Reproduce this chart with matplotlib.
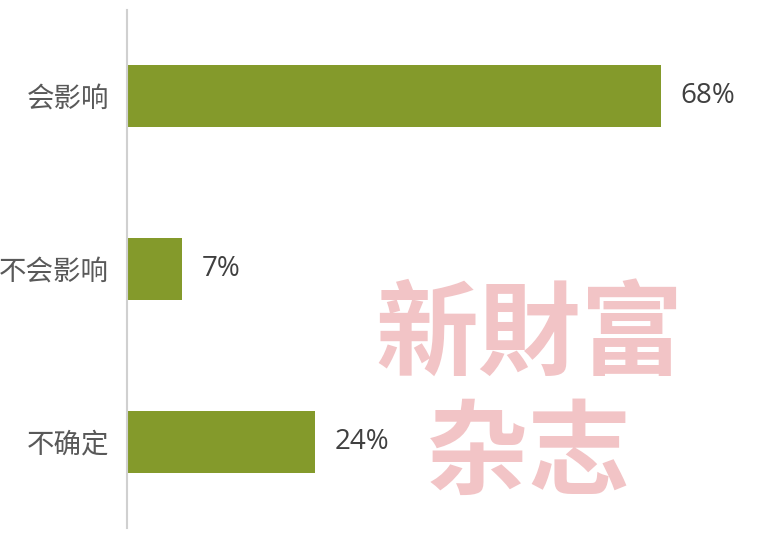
import matplotlib
matplotlib.use("Agg")
import matplotlib.pyplot as plt

categories = ["会影响", "不会影响", "不确定"]
values = [68, 7, 24]
value_labels = ["68%", "7%", "24%"]

BAR_COLOR = "#849A2B"
W, H = 762, 541

fig = plt.figure(figsize=(W / 100, H / 100), dpi=100)
ax = fig.add_axes([127 / W, 13 / H, 628 / W, 518 / H])

pos = list(range(len(categories)))
ax.barh(pos, values, height=0.36, color=BAR_COLOR)
ax.set_ylim(2.5, -0.5)
ax.set_xlim(0, 80)

for p, v, lab in zip(pos, values, value_labels):
    ax.annotate(lab, (v, p), xytext=(14, 0), textcoords="offset points",
                va="center", ha="left", fontsize=20, color="#404040",
                family=["Open Sans", "DejaVu Sans"])

ax.set_yticks(pos)
ax.set_yticklabels(categories, family=["Noto Sans CJK SC", "DejaVu Sans"],
                   fontsize=19.8, color="#595959")
ax.tick_params(axis="y", length=0, pad=13)
ax.set_xticks([])
for s in ["top", "right", "bottom"]:
    ax.spines[s].set_visible(False)
ax.spines["left"].set_color("#D0D0D0")
ax.spines["left"].set_linewidth(1.5)

# watermark
wm = dict(ha="center", va="center", fontsize=74, color="#F2C4C6",
          family=["Noto Sans CJK TC"], fontweight="heavy")
fig.text(529 / W, 1 - 337 / H, "新財富", **wm)
fig.text(529 / W, 1 - 456 / H, "杂志", **dict(wm, family=["Noto Sans CJK SC"]))

fig.savefig("out.png", dpi=100)
